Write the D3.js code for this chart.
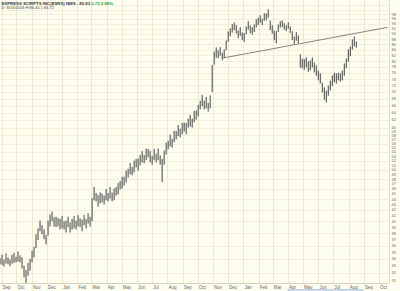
<!DOCTYPE html>
<html><head><meta charset="utf-8">
<script src="https://cdn.jsdelivr.net/npm/d3@7"></script>
<style>body{margin:0;background:#fff}svg{display:block}</style>
</head><body><svg id="c" width="400" height="291"></svg>
<script>
// ---- data ----
const firstBarDate = "2004-08-29";
const barStepDays = 4.03;
const high = [
 34.1,34.6,33.9,34.8,34.2,33.9,34.6,34.9,34.3,35.1,34.5,34.2,
 33.0,32.4,33.4,34.0,35.2,35.8,37.8,38.8,40.1,39.3,38.6,37.7,
 40.1,41.2,41.7,40.7,40.8,40.6,40.4,40.9,40.0,40.1,40.8,39.8,
 40.4,40.9,40.1,41.1,40.5,40.3,41.1,40.4,41.4,40.8,44.2,46.4,
 45.2,44.8,45.3,45.1,44.7,46.0,45.2,46.4,45.3,46.1,46.4,47.2,
 47.6,48.5,48.5,49.8,50.2,51.5,50.6,52.0,52.4,52.5,53.3,54.2,
 53.3,54.8,54.7,54.3,53.1,54.7,53.6,54.8,53.2,52.4,54.3,56.2,
 56.7,58.2,57.2,59.2,59.1,60.7,59.7,61.2,61.3,61.2,62.4,63.4,
 62.4,64.5,64.6,66.2,67.4,69.1,67.4,68.5,66.8,69.0,78.7,83.4,
 84.9,83.8,85.0,83.0,84.2,87.5,91.0,92.2,93.9,94.6,93.5,91.4,
 92.7,90.6,90.3,93.0,95.1,93.4,92.7,93.8,95.9,96.6,97.6,96.2,
 98.4,98.4,100.1,95.4,93.5,91.3,91.1,93.8,95.1,95.4,94.3,93.4,
 94.6,93.0,91.1,89.0,90.7,89.4,82.4,80.9,80.7,81.3,79.9,80.2,
 81.3,79.5,78.6,76.8,75.9,72.9,71.4,70.4,72.0,73.5,75.2,76.1,
 75.9,76.1,75.9,76.8,79.2,80.9,84.2,85.2,87.9,89.0,87.1
];
const low = [
 33.2,33.1,32.9,33.3,33.2,32.9,33.3,33.4,33.5,33.6,33.5,32.6,
 31.4,30.6,31.6,32.3,33.5,34.2,35.6,36.9,38.3,37.8,37.0,36.2,
 37.6,39.1,40.0,39.1,39.0,39.1,38.6,38.8,38.6,38.1,39.0,38.1,
 38.6,38.8,38.6,39.1,39.0,38.3,39.3,38.8,39.6,39.1,40.0,43.8,
 43.6,42.6,43.2,43.4,43.0,43.8,43.6,44.1,43.6,43.8,44.7,44.9,
 45.9,46.1,46.7,47.3,48.3,49.0,48.8,49.4,50.5,49.8,50.9,51.6,
 51.4,52.1,52.7,51.6,51.1,52.1,51.6,52.1,51.1,47.4,51.1,53.4,
 54.6,55.3,55.0,56.3,57.0,57.8,57.5,58.3,59.0,58.3,60.0,60.3,
 60.0,61.4,62.1,63.0,64.9,65.8,64.9,65.2,64.3,65.2,70.0,78.8,
 81.2,81.0,81.9,80.3,81.2,83.9,87.0,89.1,90.5,91.5,90.1,88.3,
 89.3,87.6,87.0,89.9,91.7,90.3,89.7,90.7,92.5,93.5,94.5,93.5,
 95.3,95.5,96.5,91.5,90.1,87.6,86.4,90.7,92.5,92.7,91.7,91.1,
 92.1,90.3,87.6,86.1,87.4,86.4,77.8,77.6,77.1,77.9,76.4,76.9,
 77.8,76.2,75.1,73.6,72.6,69.9,67.7,66.9,68.9,70.5,71.9,73.0,
 72.6,73.6,73.2,73.6,75.1,77.6,79.8,81.7,84.1,85.3,84.8
];
const monthLabels = ["Sep","Oct","Nov","Dec","Jan","Feb","Mar","Apr","May","Jun","Jul","Aug",
 "Sep","Oct","Nov","Dec","Jan","Feb","Mar","Apr","May","Jun","Jul","Aug","Sep","Oct"];
const priceTicks = [31,32,33,34,35,36,37,38,39,40,41,42,43,44,45,46,47,48,49,50,
 51,52,53,54,55,56,57,58,59,60,62,64,66,68,70,72,74,76,78,80,82,84,86,88,90,92,94,96,98];
const gridPrices = [32,34,36,38,40,42,44,46,48,50,52,54,56,58,60,62,64,66,68,70,72,74,76,78,80,
 82,84,86,88,90,92,94,96,98,100,102];
const trendDates = ["2005-11-21","2006-10-18"];
const trendPrices = [81.1, 92.6];
const titleMain = "EXPRESS SCRIPTS INC(ESRX) NMS - 85.83";
const titleChange = "0.75  0.88%";
const subTitle = "D: 8/16/2006  H:86.40 L:84.72";

// ---- drawing ----
const W = 400, H = 291, plotR = 389, plotB = 283;
const svg = d3.select("#c");
const font = "Liberation Sans, Arial, sans-serif";
svg.append("rect").attr("width", W).attr("height", H).attr("fill", "#fefef0");

const parse = d3.utcParse("%Y-%m-%d");
const x = d3.scaleUtc().domain([Date.UTC(2004,8,1), Date.UTC(2006,9,1)]).range([1.5, 379]);
const y = d3.scaleLog().domain([30.62, 104.25]).range([plotB, 0]);
const t0 = parse(firstBarDate).getTime();
const barDates = high.map((_, i) => new Date(t0 + i * barStepDays * 864e5));

// grid
const months = d3.utcMonth.range(Date.UTC(2004,8,1), Date.UTC(2006,10,1));
svg.append("g").selectAll("line").data(gridPrices).join("line")
  .attr("x1", 0).attr("x2", plotR)
  .attr("y1", d => Math.round(y(d)) + 0.5).attr("y2", d => Math.round(y(d)) + 0.5)
  .attr("stroke", "#f2f0d8").attr("stroke-width", 1);
svg.append("g").selectAll("line").data(months).join("line")
  .attr("x1", d => Math.round(x(d)) + 0.5).attr("x2", d => Math.round(x(d)) + 0.5)
  .attr("y1", 0).attr("y2", plotB)
  .attr("stroke", "#ebe9cf").attr("stroke-width", 1);

// frame
svg.append("line").attr("x1", 0).attr("x2", plotR).attr("y1", plotB + 0.5).attr("y2", plotB + 0.5)
  .attr("stroke", "#d6d4bd");
svg.append("line").attr("x1", plotR + 0.5).attr("x2", plotR + 0.5).attr("y1", 0).attr("y2", plotB)
  .attr("stroke", "#e2e0c8");

// bars
svg.append("clipPath").attr("id", "pc").append("rect")
  .attr("width", plotR).attr("height", plotB);
const g = svg.append("g").attr("clip-path", "url(#pc)");
g.selectAll("line.bar").data(high).join("line").attr("class", "bar")
  .attr("x1", (d, i) => x(barDates[i])).attr("x2", (d, i) => x(barDates[i]))
  .attr("y1", d => y(d)).attr("y2", (d, i) => y(low[i]))
  .attr("stroke", "#444").attr("stroke-width", 1);

// trend line
g.append("line")
  .attr("x1", x(parse(trendDates[0]))).attr("y1", y(trendPrices[0]))
  .attr("x2", x(parse(trendDates[1]))).attr("y2", y(trendPrices[1]))
  .attr("stroke", "#666").attr("stroke-width", 0.8);

// month labels
svg.append("g").selectAll("text").data(months).join("text")
  .attr("x", d => x(d) + 1).attr("y", 289)
  .attr("font-family", font).attr("font-size", 4.5).attr("fill", "#666")
  .text((d, i) => monthLabels[i]);

// price labels
svg.append("g").selectAll("text").data(priceTicks).join("text")
  .attr("x", 391.5).attr("y", d => y(d) + 1.4)
  .attr("font-family", font).attr("font-size", 4).attr("fill", "#666")
  .text(d => String(d));

// title
const tt = svg.append("text").attr("x", 1.5).attr("y", 4.5)
  .attr("font-family", font).attr("font-size", 4.3).attr("font-weight", "bold").attr("fill", "#333");
tt.append("tspan").text(titleMain + "  ");
tt.append("tspan").attr("fill", "#2fa02f").text(titleChange);
svg.append("text").attr("x", 1.5).attr("y", 9)
  .attr("font-family", font).attr("font-size", 4).attr("fill", "#444").text(subTitle);

// scrollbar hint
svg.append("rect").attr("x", 288).attr("y", 289.5).attr("width", 75).attr("height", 2)
  .attr("fill", "#cfdcf0").attr("stroke", "#9fb4d6").attr("stroke-width", 0.5);
</script></body></html>
